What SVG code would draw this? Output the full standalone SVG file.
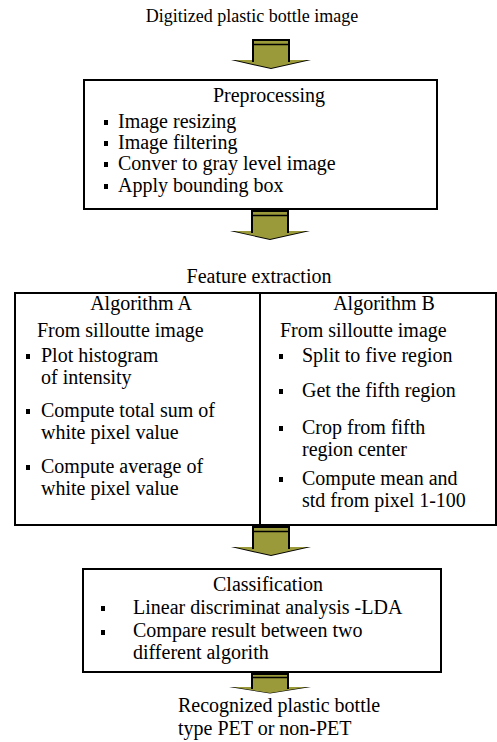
<svg xmlns="http://www.w3.org/2000/svg" width="497" height="742" viewBox="0 0 497 742">
<style>
text{font-family:"Liberation Serif","Times New Roman",serif;font-size:20px;fill:#000}
.c{text-anchor:middle}
.h{font-size:18px}
.box{fill:#fff;stroke:#000;stroke-width:2}
.blt{fill:#000}
.ab{fill:#9b9a3a;stroke:#000;stroke-width:2}
.ahk{fill:#000}
.aho{fill:#9b9a3a}
</style>
<defs>
<g id="arrow">
<polygon class="ahk" points="-40,20 40,20 0,29"/>
<polygon class="aho" points="-36,20 36,20 0,28"/>
<rect class="ab" x="-18" y="0" width="36" height="21"/>
<line x1="-18" y1="4.5" x2="18" y2="4.5" stroke="#000" stroke-width="1.5"/>
<rect x="-17" y="19" width="34" height="3" fill="#9b9a3a"/>
</g>
<g id="arrow-short">
<polygon class="ahk" points="-41,13 41,13 0,19.5"/>
<polygon class="aho" points="-37,13 37,13 0,19"/>
<rect class="ab" x="-18" y="0" width="36" height="14"/>
<line x1="-18" y1="3.5" x2="18" y2="3.5" stroke="#000" stroke-width="1.5"/>
<rect x="-17" y="12" width="34" height="3" fill="#9b9a3a"/>
</g>
</defs>
<g id="input">
<text class="c h" x="252" y="22">Digitized plastic bottle image</text>
</g>
<g id="connectors">
<use href="#arrow" x="271" y="40"/>
<use href="#arrow" x="270" y="211"/>
<use href="#arrow" x="271" y="527"/>
<use href="#arrow-short" x="270" y="674"/>
</g>
<g id="preprocessing">
<rect class="box" x="84" y="80" width="353" height="129"/>
<text class="c" x="269" y="102">Preprocessing</text>
<rect class="blt" x="104" y="120" width="4" height="5"/>
<text x="118" y="128">Image resizing</text>
<rect class="blt" x="104" y="141" width="4" height="5"/>
<text x="118" y="149">Image filtering</text>
<rect class="blt" x="104" y="162" width="4" height="5"/>
<text x="118" y="170">Conver to gray level image</text>
<rect class="blt" x="104" y="184" width="4" height="5"/>
<text x="118" y="192">Apply bounding box</text>
</g>
<g id="feature-extraction">
<text class="c" x="259" y="283">Feature extraction</text>
<rect class="box" x="15" y="293" width="481" height="232"/>
<line x1="260" y1="293" x2="260" y2="525" stroke="#000" stroke-width="2"/>
</g>
<g id="algorithm-a">
<text class="c" x="141" y="310">Algorithm A</text>
<text x="37" y="337">From silloutte image</text>
<rect class="blt" x="26" y="354" width="4" height="5"/>
<text x="41" y="362">Plot histogram</text>
<text x="41" y="384">of intensity</text>
<rect class="blt" x="26" y="409" width="4" height="5"/>
<text x="41" y="417">Compute total sum of</text>
<text x="41" y="439">white pixel value</text>
<rect class="blt" x="26" y="465" width="4" height="5"/>
<text x="41" y="473">Compute average of</text>
<text x="41" y="495">white pixel value</text>
</g>
<g id="algorithm-b">
<text class="c" x="384" y="310">Algorithm B</text>
<text x="280" y="337">From silloutte image</text>
<rect class="blt" x="279" y="354" width="4" height="5"/>
<text x="302" y="362">Split to five region</text>
<rect class="blt" x="279" y="389" width="4" height="5"/>
<text x="302" y="397">Get the fifth region</text>
<rect class="blt" x="279" y="426" width="4" height="5"/>
<text x="302" y="434">Crop from fifth</text>
<text x="302" y="456">region center</text>
<rect class="blt" x="279" y="477" width="4" height="5"/>
<text x="302" y="485">Compute mean and</text>
<text x="302" y="507">std from pixel 1-100</text>
</g>
<g id="classification">
<rect class="box" x="83" y="569" width="358" height="103"/>
<text class="c" x="268" y="591">Classification</text>
<rect class="blt" x="101" y="606" width="4" height="5"/>
<text x="133" y="614">Linear discriminat analysis -LDA</text>
<rect class="blt" x="101" y="630" width="4" height="5"/>
<text x="133" y="637">Compare result between two</text>
<text x="133" y="659">different algorith</text>
</g>
<g id="output">
<text x="178" y="712">Recognized plastic bottle</text>
<text x="178" y="735">type PET or non-PET</text>
</g>
</svg>
